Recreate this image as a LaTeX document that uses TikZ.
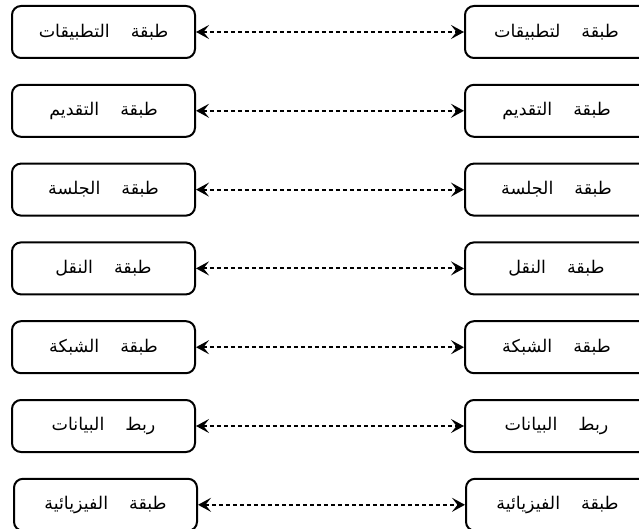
\documentclass[tikz,border=0pt]{standalone}
\usepackage{fontspec}
\usetikzlibrary{arrows.meta}
\TeXXeTstate=1
\newfontfamily\arabicfont[Script=Arabic]{DejaVu Sans}
\newcommand{\ar}[2]{{\arabicfont\beginR #1\hspace{21pt}#2\endR}}
\begin{document}
\begin{tikzpicture}[x=1pt,y=-1pt,
  layerbox/.style={draw=black, line width=2pt, rounded corners=9pt, minimum width=183pt, minimum height=52pt, inner sep=0pt, font=\fontsize{17.5pt}{21pt}\selectfont},
  link/.style={line width=1.9pt, dash pattern=on 4pt off 3pt, {Stealth[length=13pt,width=14pt,inset=5.5pt]}-{Stealth[length=13pt,width=14pt,inset=5.5pt]}}]
\useasboundingbox (0,0) rectangle (639,529);
\clip (0,0) rectangle (639,529);
\node[layerbox] (L1) at (103.5,32) {\ar{طبقة}{التطبيقات}};
\node[layerbox] (R1) at (556.5,32) {\ar{طبقة}{لتطبيقات}};
\node[layerbox] (L2) at (103.5,110.8) {\ar{طبقة}{التقديم}};
\node[layerbox] (R2) at (556.5,110.8) {\ar{طبقة}{التقديم}};
\node[layerbox] (L3) at (103.5,189.6) {\ar{طبقة}{الجلسة}};
\node[layerbox] (R3) at (556.5,189.6) {\ar{طبقة}{الجلسة}};
\node[layerbox] (L4) at (103.5,268.4) {\ar{طبقة}{النقل}};
\node[layerbox] (R4) at (556.5,268.4) {\ar{طبقة}{النقل}};
\node[layerbox] (L5) at (103.5,347.2) {\ar{طبقة}{الشبكة}};
\node[layerbox] (R5) at (556.5,347.2) {\ar{طبقة}{الشبكة}};
\node[layerbox] (L6) at (103.5,426) {\ar{ربط}{البيانات}};
\node[layerbox] (R6) at (556.5,426) {\ar{ربط}{البيانات}};
\node[layerbox] (L7) at (105.5,504.8) {\ar{طبقة}{الفيزيائية}};
\node[layerbox] (R7) at (557.5,504.8) {\ar{طبقة}{الفيزيائية}};
\foreach \i in {1,...,7} {
  \draw[link] (L\i.east) -- (R\i.west);
}
\end{tikzpicture}
\end{document}
